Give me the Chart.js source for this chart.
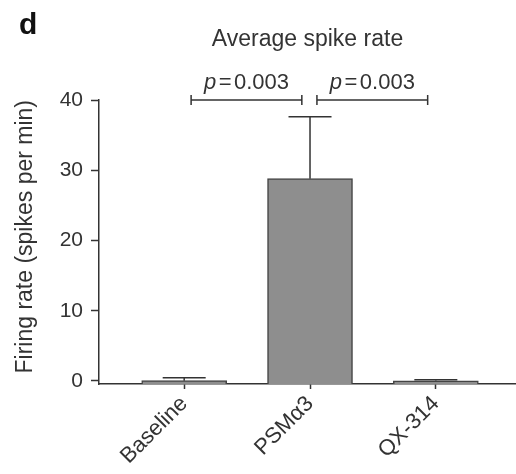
<!DOCTYPE html>
<html>
<head>
<meta charset="utf-8">
<script src="https://cdn.jsdelivr.net/npm/chart.js@4/dist/chart.umd.min.js"></script>
<style>
  html, body { margin: 0; padding: 0; background: #fff; }
  #wrap { width: 516px; height: 474px; }
</style>
</head>
<body>
<div id="wrap"><canvas id="chartCanvas"></canvas></div>
<script>
// values
const categories = ["Baseline", "PSMα3", "QX-314"];
const means = [0.05, 28.8, 0.02];
const sems = [0.42, 8.8, 0.15];
const yTicks = [0, 10, 20, 30, 40];
const comparisons = [[0, 1], [1, 2]];
const pValues = ["0.003", "0.003"];
const bracketLevel = 40;

const INK = "#333";
const FONT = "'Liberation Sans', Arial, Helvetica, sans-serif";
const Y_MIN = -0.43;

Chart.defaults.font.family = FONT;
Chart.defaults.color = INK;

// error bars, significance brackets and the panel letter
const extras = {
    id: "extras",
    afterDatasetsDraw(chart) {
        const ctx = chart.ctx;
        const xs = chart.scales.x;
        const ys = chart.scales.y;
        const bars = chart.getDatasetMeta(0).data;

        ctx.save();
        ctx.strokeStyle = INK;
        ctx.lineWidth = 1.5;

        bars.forEach((bar, i) => {
            const top = ys.getPixelForValue(means[i] + sems[i]);
            ctx.beginPath();
            ctx.moveTo(bar.x, bar.y);
            ctx.lineTo(bar.x, top);
            ctx.moveTo(bar.x - 21.5, top);
            ctx.lineTo(bar.x + 21.5, top);
            ctx.stroke();
        });

        const by = ys.getPixelForValue(bracketLevel);
        comparisons.forEach(([a, b], k) => {
            const x1 = xs.getPixelForValue(a + 0.055);
            const x2 = xs.getPixelForValue(b - 0.065);
            ctx.beginPath();
            ctx.moveTo(x1, by);
            ctx.lineTo(x2, by);
            ctx.moveTo(x1, by - 5);
            ctx.lineTo(x1, by + 5);
            ctx.moveTo(x2, by - 5);
            ctx.lineTo(x2, by + 5);
            ctx.stroke();

            ctx.fillStyle = INK;
            ctx.textBaseline = "alphabetic";
            ctx.textAlign = "left";
            const italic = "italic 22px " + FONT;
            const plain = "22px " + FONT;
            ctx.font = italic;
            const wp = ctx.measureText("p").width;
            ctx.font = plain;
            const eq = "=";
            const we = ctx.measureText(eq).width;
            const num = pValues[k];
            const wn = ctx.measureText(num).width;
            const gap = 2.5;
            let sx = (x1 + x2) / 2 - (wp + we + wn + 2 * gap) / 2;
            const ty = by - 11;
            ctx.font = italic;
            ctx.fillText("p", sx, ty);
            ctx.font = plain;
            ctx.fillText(eq, sx + wp + gap, ty);
            ctx.fillText(num, sx + wp + we + 2 * gap, ty);
        });

        ctx.fillStyle = "#111";
        ctx.font = "bold 30px " + FONT;
        ctx.textAlign = "left";
        ctx.textBaseline = "alphabetic";
        ctx.fillText("d", 19, 34);
        ctx.restore();
    }
};

const chartCanvas = document.getElementById("chartCanvas");

new Chart(chartCanvas, {
    type: "bar",
    data: {
        datasets: [{
            data: categories.map((c, i) => ({ x: i, y: means[i] })),
            backgroundColor: "#8e8e8e",
            borderColor: "#444",
            borderWidth: 1.5,
            barThickness: 85,
            base: Y_MIN
        }]
    },
    options: {
        responsive: true,
        maintainAspectRatio: false,
        animation: false,
        layout: { padding: 0 },
        plugins: {
            legend: { display: false },
            tooltip: { enabled: false },
            title: {
                display: true,
                text: "Average spike rate",
                fullSize: false,
                color: INK,
                font: { size: 23, weight: "normal" },
                padding: { top: 26, bottom: 46.4 }
            }
        },
        scales: {
            x: {
                type: "linear",
                offset: false,
                grace: 0,
                min: -0.677,
                max: 2.637,
                afterBuildTicks: scale => {
                    scale.ticks = categories.map((c, i) => ({ value: i }));
                },
                afterFit: scale => { scale.height = 90; },
                ticks: {
                    autoSkip: false,
                    maxRotation: 45,
                    minRotation: 45,
                    padding: 2,
                    color: INK,
                    font: { size: 22 },
                    callback: v => categories[v]
                },
                grid: {
                    offset: false,
                    drawOnChartArea: false,
                    tickLength: 5,
                    tickColor: INK,
                    tickWidth: 1.5
                },
                border: { color: INK, width: 1.5 }
            },
            y: {
                min: Y_MIN,
                max: 40,
                afterBuildTicks: scale => {
                    scale.ticks = yTicks.map(v => ({ value: v }));
                },
                afterFit: scale => { scale.width = 99; },
                ticks: {
                    padding: 8,
                    color: INK,
                    font: { size: 21 }
                },
                grid: {
                    drawOnChartArea: false,
                    tickLength: 8,
                    tickColor: INK,
                    tickWidth: 1.5
                },
                border: { color: INK, width: 1.5 },
                title: {
                    display: true,
                    text: "Firing rate (spikes per min)",
                    align: "end",
                    color: INK,
                    font: { size: 23 },
                    padding: { top: 12, bottom: 0 }
                }
            }
        }
    },
    plugins: [extras]
});
</script>
</body>
</html>
